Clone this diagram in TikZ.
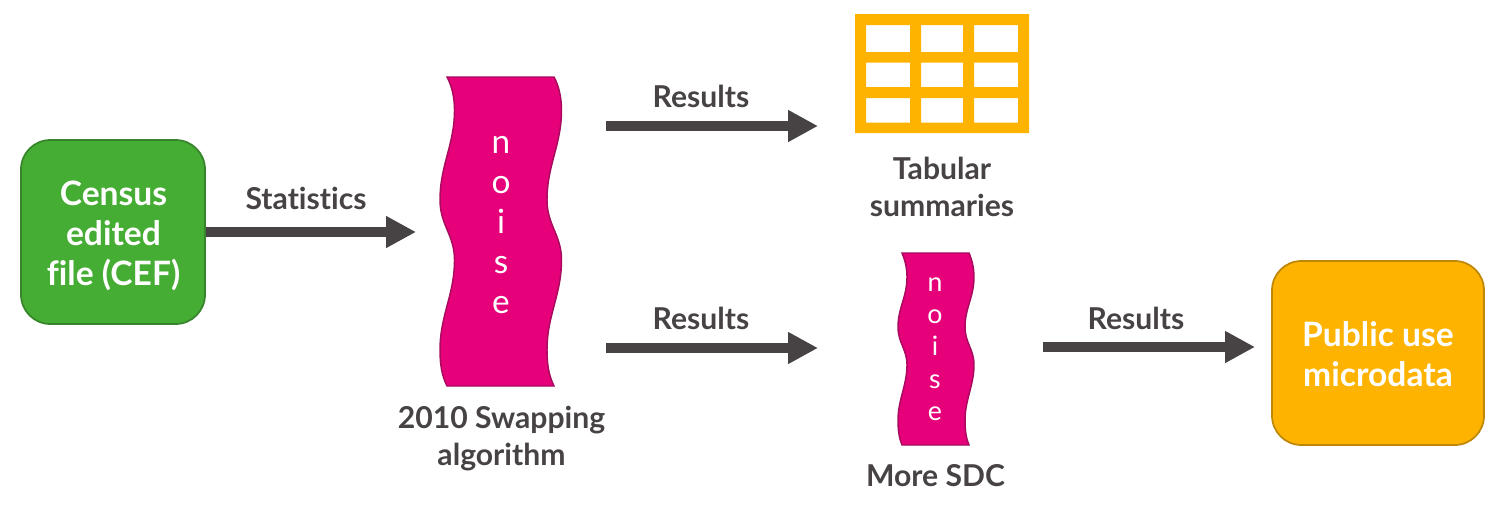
\documentclass[tikz,border=0pt]{standalone}
\usepackage{fontspec}
\setmainfont{Lato}[Ligatures=NoCommon]
\usetikzlibrary{arrows.meta}
\definecolor{ink}{HTML}{474344}
\definecolor{pinkf}{HTML}{E6007A}
\definecolor{pinkd}{HTML}{A80A5E}
\definecolor{greenf}{HTML}{46AD34}
\definecolor{greend}{HTML}{37852A}
\definecolor{orangef}{HTML}{FDB300}
\definecolor{oranged}{HTML}{BE8806}
\tikzset{
  x=0.75pt,y=-0.75pt,
  box/.style={rounded corners=22pt,line width=1.3pt,minimum width=138pt,minimum height=138pt,inner sep=0pt},
  boxtxt/.style={text=white,align=center,inner sep=0pt,font=\fontsize{25.2}{30}\selectfont\bfseries},
  lab/.style={text=ink,font=\fontsize{22.6}{27.5}\selectfont\bfseries,align=center,inner sep=0pt},
  flow/.style={draw=ink,line width=7.5pt,-{Triangle[length=22.5pt,width=22.5pt]}},
  wavy/.style={fill=pinkf,draw=pinkd,line width=1.1pt},
  bigtxt/.style={text=white,align=center,inner sep=0pt,font=\fontsize{25}{30}\selectfont},
  smalltxt/.style={text=white,align=center,inner sep=0pt,font=\fontsize{20}{24.2}\selectfont},
}
\begin{document}
\begin{tikzpicture}
\useasboundingbox (0,0) rectangle (1499,515);
% green box
\node[box,fill=greenf,draw=greend] (cef) at (113,232) {};
\node[boxtxt] (ceft) at (113.5,236) {Census\\edited\\file (CEF)};
% orange box
\node[box,fill=orangef,draw=oranged,minimum width=159pt] (pum) at (1378,353) {};
\node[boxtxt] (pumt) at (1378,354.5) {Public use\\microdata};
% big wave
\draw[wavy] (447,77) .. controls (452,86) and (454.5,98) .. (454.5,110)
  .. controls (454.5,145) and (440,165) .. (440,200)
  .. controls (440,225) and (454.5,235) .. (454.5,260)
  .. controls (454.5,295) and (440,315) .. (440,350)
  .. controls (440,365) and (442,376) .. (447,386)
  -- (554,386) .. controls (549,376) and (547,365) .. (547,350)
  .. controls (547,315) and (561.5,295) .. (561.5,260)
  .. controls (561.5,235) and (547,225) .. (547,200)
  .. controls (547,165) and (561.5,145) .. (561.5,110)
  .. controls (561.5,98) and (559,86) .. (554,77) -- cycle;
\node[bigtxt] (noiseA) at (501,225) {n\\o\\i\\s\\e};
% small wave
\draw[wavy] (902,253) .. controls (905,260) and (907,268) .. (907,277)
  .. controls (907,297) and (898,308) .. (898,327)
  .. controls (898,343) and (907,349) .. (907,365)
  .. controls (907,385) and (898,400) .. (898,420)
  .. controls (898,430) and (899,438) .. (902,445)
  -- (969,445) .. controls (966,438) and (965,430) .. (965,420)
  .. controls (965,400) and (974,385) .. (974,365)
  .. controls (974,349) and (965,343) .. (965,327)
  .. controls (965,308) and (974,297) .. (974,277)
  .. controls (974,268) and (972,260) .. (969,253) -- cycle;
\node[smalltxt] (noiseB) at (935,349) {n\\o\\i\\s\\e};
% table icon
\fill[orangef,even odd rule] (855,14) rectangle (1029,133)
  (866,25) rectangle (910,52) (921,25) rectangle (963,52) (974,25) rectangle (1018,52)
  (866,62.5) rectangle (910,87) (921,62.5) rectangle (963,87) (974,62.5) rectangle (1018,87)
  (866,98) rectangle (910,122.5) (921,98) rectangle (963,122.5) (974,98) rectangle (1018,122.5);
% anchor coordinates
\coordinate (a1e) at (416,232);
\coordinate (a2s) at (606,126);
\coordinate (a2e) at (818,126);
\coordinate (a3s) at (606,348);
\coordinate (a3e) at (818,348);
\coordinate (a4s) at (1043,347);
\coordinate (a4e) at (1255,347);
\draw[flow] (cef.east |- a1e) -- (a1e);
\draw[flow] (a2s) -- (a2e);
\draw[flow] (a3s) -- (a3e);
\draw[flow] (a4s) -- (a4e);
% labels
\node[lab] (l1) at (306,198.5) {Statistics};
\node[lab] (l2) at (701,96.5) {Results};
\node[lab] (l3) at (701,318.5) {Results};
\node[lab] (l4) at (1136,318.5) {Results};
\node[lab] (t1) at (942,187) {Tabular\\summaries};
\node[lab] (t2) at (501.5,438.5) {2010 Swapping\\algorithm};
\node[lab] (t3) at (935.5,475.5) {More SDC};
\end{tikzpicture}
\end{document}
